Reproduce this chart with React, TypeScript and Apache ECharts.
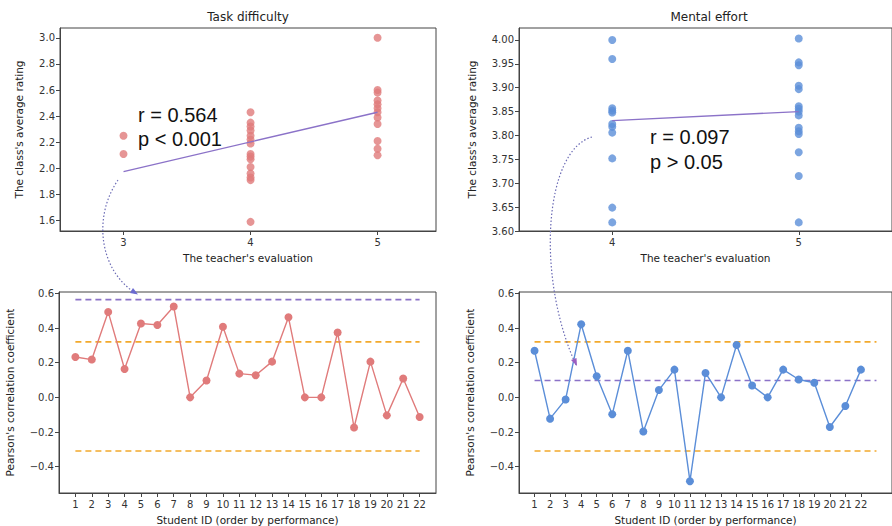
import React, { useEffect, useRef } from 'react';
import * as echarts from 'echarts';

// ---------- data ----------
const taskEval3 = [2.25, 2.11];
const taskEval4 = [2.43, 2.35, 2.32, 2.29, 2.25, 2.22, 2.19, 2.11, 2.09, 2.07, 2.01, 1.96, 1.93, 1.91, 1.59];
const taskEval5 = [3.0, 2.6, 2.58, 2.52, 2.49, 2.46, 2.43, 2.39, 2.34, 2.21, 2.15, 2.1];
const taskFit = [[3, 1.975], [5, 2.43]];

const effortEval4 = [4.0, 3.96, 3.857, 3.852, 3.848, 3.824, 3.818, 3.806, 3.752, 3.649, 3.618];
const effortEval5 = [4.003, 3.953, 3.947, 3.904, 3.897, 3.861, 3.856, 3.85, 3.842, 3.816, 3.809, 3.803, 3.765, 3.715, 3.618];
const effortFit = [[4, 3.831], [5, 3.85]];

const studentIds = [1, 2, 3, 4, 5, 6, 7, 8, 9, 10, 11, 12, 13, 14, 15, 16, 17, 18, 19, 20, 21, 22];
const taskR = [0.233, 0.218, 0.493, 0.164, 0.426, 0.418, 0.524, 0.0, 0.097, 0.407, 0.137, 0.128, 0.206, 0.462, 0.0, 0.0, 0.374, -0.174, 0.206, -0.104, 0.109, -0.113];
const effortR = [0.269, -0.123, -0.012, 0.422, 0.122, -0.098, 0.269, -0.197, 0.042, 0.16, -0.484, 0.141, 0.0, 0.302, 0.068, 0.0, 0.16, 0.103, 0.084, -0.171, -0.05, 0.16];

const taskOverallR = 0.564;
const effortOverallR = 0.097;
const upperCritical = 0.32;
const lowerCritical = -0.31;

const taskTicksX = [3, 4, 5];
const taskTicksY = [1.6, 1.8, 2.0, 2.2, 2.4, 2.6, 2.8, 3.0];
const effortTicksX = [4, 5];
const effortTicksY = [3.6, 3.65, 3.7, 3.75, 3.8, 3.85, 3.9, 3.95, 4.0];
const corrTicksY = [-0.4, -0.2, 0.0, 0.2, 0.4, 0.6];

const RED = '#e07b7b';
const BLUE = '#5b8ed8';
const PURPLE = '#8b72c8';
const ORANGE = '#f2a92c';
const AXIS = '#444444';
const FONT = 'DejaVu Sans';

const minus = (s: string) => s.replace('-', '\u2212');

function axisBase(grid: number) {
  return {
    gridIndex: grid,
    type: 'value' as const,
    splitLine: { show: false },
    axisLine: { show: true, onZero: false, lineStyle: { color: AXIS, width: 1 } },
    nameTextStyle: { fontFamily: FONT, fontSize: 10.5, color: '#222' },
  };
}

function xAx(grid: number, min: number, max: number, ticks: number[], name: string, gap: number) {
  return {
    ...axisBase(grid),
    min, max,
    name, nameLocation: 'middle', nameGap: gap,
    axisTick: { show: true, length: 4, inside: false, customValues: ticks, lineStyle: { color: AXIS } },
    axisLabel: { customValues: ticks, fontFamily: FONT, fontSize: 10, color: '#333', margin: 6, formatter: (v: number) => String(v) },
  };
}

function yAx(grid: number, min: number, max: number, ticks: number[], dec: number, name: string, gap: number) {
  return {
    ...axisBase(grid),
    min, max,
    name, nameLocation: 'middle', nameRotate: 90, nameGap: gap,
    axisTick: { show: true, length: 4, inside: false, customValues: ticks, lineStyle: { color: AXIS } },
    axisLabel: { customValues: ticks, fontFamily: FONT, fontSize: 10, color: '#333', margin: 5, formatter: (v: number) => minus(v.toFixed(dec)) },
  };
}

function hLine(grid: number, y: number, x0: number, x1: number, color: string) {
  return {
    type: 'line', xAxisIndex: grid, yAxisIndex: grid,
    data: [[x0, y], [x1, y]], symbol: 'none',
    lineStyle: { color, width: 1.6, type: [6, 4] }, silent: true, z: 1,
  };
}

export default function App() {
  const ref = useRef<HTMLDivElement>(null);
  useEffect(() => {
    if (!ref.current) return;
    const chart = echarts.init(ref.current, undefined, { renderer: 'svg' });
    const gridStyle = { show: true, borderColor: AXIS, borderWidth: 1, backgroundColor: 'transparent' };
    const taskPts = [
      ...taskEval3.map((v) => [3, v]),
      ...taskEval4.map((v) => [4, v]),
      ...taskEval5.map((v) => [5, v]),
    ];
    const effortPts = [
      ...effortEval4.map((v) => [4, v]),
      ...effortEval5.map((v) => [5, v]),
    ];
    const textStyle = { fontFamily: 'Liberation Sans', fontSize: 20, fill: '#111' };
    const dot = { stroke: '#6b6bb5', lineWidth: 1.2, lineDash: [1.5, 2], fill: 'none' };
    chart.setOption({
      animation: false,
      backgroundColor: '#ffffff',
      grid: [
        { left: 60, top: 28, width: 376, height: 203, ...gridStyle },
        { left: 519, top: 28, width: 381, height: 203, ...gridStyle },
        { left: 59, top: 292, width: 377, height: 202, ...gridStyle },
        { left: 519, top: 292, width: 381, height: 202, ...gridStyle },
      ],
      xAxis: [
        xAx(0, 2.5, 5.46, taskTicksX, "The teacher's evaluation", 21),
        xAx(1, 3.5, 5.5, effortTicksX, "The teacher's evaluation", 21),
        xAx(2, 0, 23, studentIds, 'Student ID (order by performance)', 21),
        xAx(3, 0, 24, studentIds, 'Student ID (order by performance)', 21),
      ],
      yAxis: [
        yAx(0, 1.52, 3.075, taskTicksY, 1, "The class's average rating", 36),
        yAx(1, 3.6, 4.025, effortTicksY, 2, "The class's average rating", 42),
        yAx(2, -0.552, 0.608, corrTicksY, 1, "Pearson's correlation coefficient", 44),
        yAx(3, -0.552, 0.608, corrTicksY, 1, "Pearson's correlation coefficient", 44),
      ],
      series: [
        { type: 'scatter', xAxisIndex: 0, yAxisIndex: 0, data: taskPts, symbolSize: 8, itemStyle: { color: RED }, z: 2 },
        { type: 'line', xAxisIndex: 0, yAxisIndex: 0, data: taskFit, symbol: 'none', lineStyle: { color: PURPLE, width: 1.4 }, z: 3 },
        { type: 'scatter', xAxisIndex: 1, yAxisIndex: 1, data: effortPts, symbolSize: 8, itemStyle: { color: BLUE }, z: 2 },
        { type: 'line', xAxisIndex: 1, yAxisIndex: 1, data: effortFit, symbol: 'none', lineStyle: { color: PURPLE, width: 1.4 }, z: 3 },

        hLine(2, taskOverallR, 1, 22, PURPLE),
        hLine(2, upperCritical, 1, 22, ORANGE),
        hLine(2, lowerCritical, 1, 22, ORANGE),
        {
          type: 'line', xAxisIndex: 2, yAxisIndex: 2,
          data: studentIds.map((id, i) => [id, taskR[i]]),
          symbol: 'circle', symbolSize: 8, showSymbol: true,
          itemStyle: { color: RED }, lineStyle: { color: RED, width: 1.4 }, z: 3,
        },

        hLine(3, effortOverallR, 1, 23, PURPLE),
        hLine(3, upperCritical, 1, 23, ORANGE),
        hLine(3, lowerCritical, 1, 23, ORANGE),
        {
          type: 'line', xAxisIndex: 3, yAxisIndex: 3,
          data: studentIds.map((id, i) => [id, effortR[i]]),
          symbol: 'circle', symbolSize: 8, showSymbol: true,
          itemStyle: { color: BLUE }, lineStyle: { color: BLUE, width: 1.4 }, z: 3,
        },
      ],
      graphic: [
        { type: 'text', x: 248, y: 17, z: 10, style: { text: 'Task difficulty', fontFamily: FONT, fontSize: 12, fill: '#222', align: 'center', verticalAlign: 'middle' } },
        { type: 'text', x: 709, y: 17, z: 10, style: { text: 'Mental effort', fontFamily: FONT, fontSize: 12, fill: '#222', align: 'center', verticalAlign: 'middle' } },
        { type: 'text', x: 138, y: 115, z: 10, style: { ...textStyle, text: 'r = 0.564', verticalAlign: 'middle' } },
        { type: 'text', x: 138, y: 139, z: 10, style: { ...textStyle, text: 'p < 0.001', verticalAlign: 'middle' } },
        { type: 'text', x: 650, y: 137, z: 10, style: { ...textStyle, text: 'r = 0.097', verticalAlign: 'middle' } },
        { type: 'text', x: 650, y: 162, z: 10, style: { ...textStyle, text: 'p > 0.05', verticalAlign: 'middle' } },
        { type: 'bezierCurve', z: 10, shape: { x1: 118, y1: 180, cpx1: 92, cpy1: 218, cpx2: 100, cpy2: 272, x2: 137, y2: 294 }, style: dot },
        { type: 'polygon', z: 10, shape: { points: [[138, 294.5], [130, 293], [133, 288]] }, style: { fill: '#6b6bd0' } },
        { type: 'bezierCurve', z: 10, shape: { x1: 592, y1: 137, cpx1: 545, cpy1: 150, cpx2: 535, cpy2: 275, x2: 576, y2: 365 }, style: dot },
        { type: 'polygon', z: 10, shape: { points: [[577, 366], [571, 360], [576.5, 358]] }, style: { fill: '#9b5fc0' } },
      ],
    });
    return () => chart.dispose();
  }, []);
  return <div ref={ref} style={{ position: 'absolute', left: 0, top: 0, width: 892, height: 526 }} />;
}
